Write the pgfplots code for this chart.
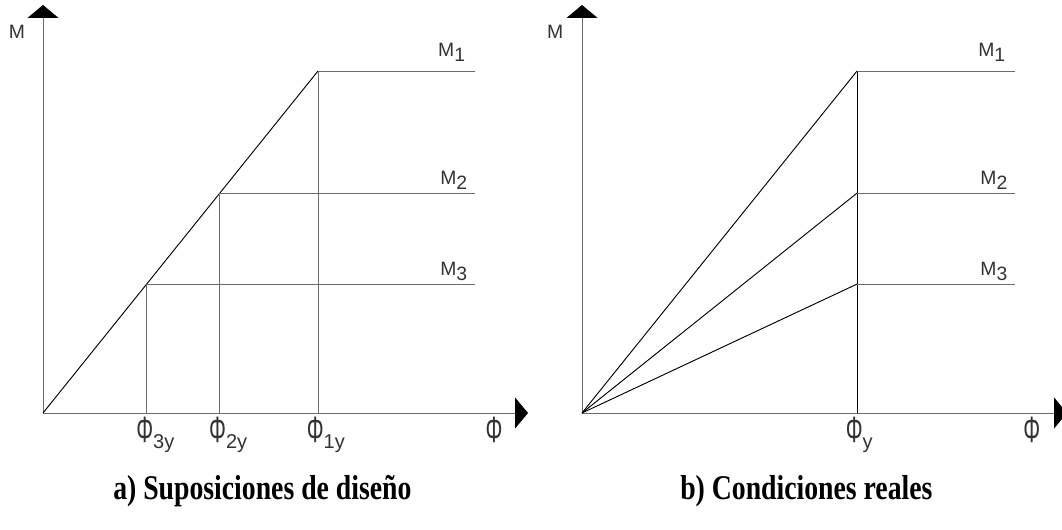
\documentclass[border=0pt]{standalone}
\usepackage{pgfplots}
\pgfplotsset{compat=1.18}
\usepackage{fontspec}
\usetikzlibrary{arrows.meta}
\newfontfamily\cad{Liberation Sans}
\newfontfamily\capfont{Liberation Serif}
\definecolor{linegray}{gray}{0.42}
\definecolor{txtgray}{gray}{0.2}

\pgfplotsset{
  mphi/.style={
    width=363.75pt, height=306pt, scale only axis,
    xmin=0, xmax=1.7636, ymin=0, ymax=1.193,
    axis lines=left, ticks=none, clip=false,
    axis line style={draw=linegray, line width=0.75pt,
      -{Triangle[length=9.75pt,width=23.25pt,color=black]}},
    anchor=south west,
  },
  thin/.style={linegray, line width=0.75pt},
  diag/.style={black, line width=0.7pt},
}
\tikzset{
  lbl/.style={inner sep=0pt, text=txtgray, font=\cad\fontsize{14.5pt}{17pt}\selectfont},
  phil/.style={inner sep=0pt, text=txtgray, font=\cad\fontsize{22pt}{24pt}\selectfont, anchor=north, yshift=-3pt},
}
\newcommand{\sub}[1]{\raisebox{-3.75pt}{#1}}
% tall, narrow phi as in the drafting font
\newcommand{\Phig}{\scalebox{0.72}[1.25]{Φ}}
\newcommand{\phisub}[1]{\rlap{\fontsize{15pt}{17pt}\selectfont\raisebox{-4pt}{#1}}}

\begin{document}
\begin{tikzpicture}
\useasboundingbox (0,0) rectangle (796.5pt,396.75pt);

% (a) design assumption: common stiffness, yield curvature grows with strength
\begin{axis}[mphi, at={(32.25pt,87pt)}]
  \addplot[diag] coordinates {(0,0) (1,1)};
  \addplot[thin] coordinates {(1,1) (1.571,1)};
  \addplot[thin] coordinates {(1,0) (1,1)};
  \addplot[thin] coordinates {(0.643,0.643) (1.571,0.643)};
  \addplot[thin] coordinates {(0.643,0) (0.643,0.643)};
  \addplot[thin] coordinates {(0.377,0.377) (1.571,0.377)};
  \addplot[thin] coordinates {(0.377,0) (0.377,0.377)};
  \node[lbl] at (axis cs:-0.0945,1.114) {M};
  \node[lbl, anchor=base west] at (axis cs:1.436,1.041) {M\sub{1}};
  \node[lbl, anchor=base west] at (axis cs:1.444,0.667) {M\sub{2}};
  \node[lbl, anchor=base west] at (axis cs:1.444,0.4035) {M\sub{3}};
  \node[phil] at (axis cs:0.37,0) {\Phig\phisub{3y}};
  \node[phil] at (axis cs:0.635,0) {\Phig\phisub{2y}};
  \node[phil] at (axis cs:0.99,0) {\Phig\phisub{1y}};
  \node[phil] at (axis cs:1.64,0) {\Phig};
\end{axis}

% (b) real behaviour: common yield curvature, stiffness grows with strength
\begin{axis}[mphi, at={(436.5pt,87pt)}]
  \addplot[diag] coordinates {(0,0) (1,1)};
  \addplot[diag] coordinates {(0,0) (1,0.643)};
  \addplot[diag] coordinates {(0,0) (1,0.377)};
  \addplot[diag] coordinates {(1,0) (1,1)};
  \addplot[thin] coordinates {(1,1) (1.575,1)};
  \addplot[thin] coordinates {(1,0.643) (1.575,0.643)};
  \addplot[thin] coordinates {(1,0.377) (1.575,0.377)};
  \node[lbl] at (axis cs:-0.098,1.114) {M};
  \node[lbl, anchor=base west] at (axis cs:1.44,1.041) {M\sub{1}};
  \node[lbl, anchor=base west] at (axis cs:1.448,0.667) {M\sub{2}};
  \node[lbl, anchor=base west] at (axis cs:1.448,0.4035) {M\sub{3}};
  \node[phil] at (axis cs:0.99,0) {\Phig\phisub{y}};
  \node[phil] at (axis cs:1.636,0) {\Phig};
\end{axis}

\node[anchor=base west, inner sep=0pt] at (84.75pt,22.5pt)
  {\capfont\bfseries\fontsize{26pt}{30pt}\selectfont\scalebox{0.8}[1]{a) Suposiciones de diseño}};
\node[anchor=base west, inner sep=0pt] at (510pt,22.5pt)
  {\capfont\bfseries\fontsize{26pt}{30pt}\selectfont\scalebox{0.8}[1]{b) Condiciones reales}};
\end{tikzpicture}
\end{document}
